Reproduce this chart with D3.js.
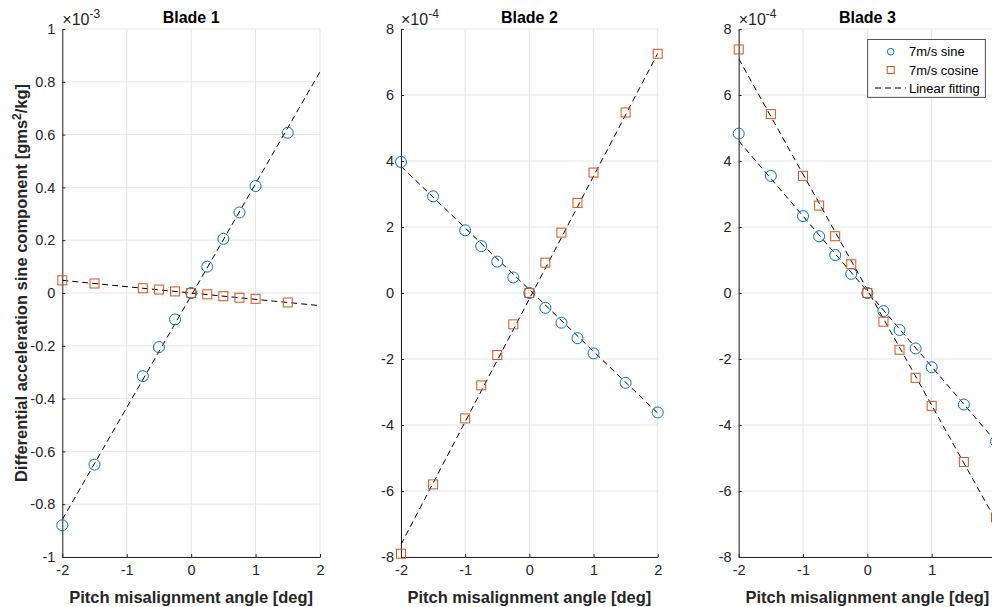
<!DOCTYPE html>
<html><head><meta charset="utf-8">
<script src="https://cdn.jsdelivr.net/npm/d3@7"></script>
<style>body{margin:0;background:#fff;overflow:hidden}svg{display:block;font-family:"Liberation Sans",Arial,Helvetica,sans-serif}</style>
</head><body>
<svg id="c" width="992" height="607"></svg>
<script>
// ---- data ----
const titles = ["Blade 1", "Blade 2", "Blade 3"];
const exponents = ["-3", "-4", "-4"];
const xTicks = [-2, -1, 0, 1, 2];
const yTicks1 = [-1, -0.8, -0.6, -0.4, -0.2, 0, 0.2, 0.4, 0.6, 0.8, 1];
const yTicks23 = [-8, -6, -4, -2, 0, 2, 4, 6, 8];

const b1X = [-2, -1.5, -0.75, -0.5, -0.25, 0, 0.25, 0.5, 0.75, 1, 1.5];
const b1Sine = [-0.88, -0.65, -0.315, -0.205, -0.10, 0, 0.10, 0.205, 0.305, 0.405, 0.607];
const b1Cos = [0.048, 0.036, 0.018, 0.013, 0.006, 0, -0.005, -0.012, -0.018, -0.022, -0.036];
const b1FitSine = [0.424, -0.01];   // slope, intercept
const b1FitCos = [-0.024, 0.0];

const b2X = [-2, -1.5, -1, -0.75, -0.5, -0.25, 0, 0.25, 0.5, 0.75, 1, 1.5, 2];
const b2Sine = [3.97, 2.93, 1.9, 1.42, 0.95, 0.47, 0, -0.45, -0.9, -1.37, -1.83, -2.72, -3.62];
const b2Cos = [-7.9, -5.8, -3.8, -2.8, -1.88, -0.95, 0, 0.92, 1.83, 2.73, 3.65, 5.47, 7.25];
const b2FitSine = [-1.87, 0.1];
const b2FitCos = [3.72, -0.18];

const b3X = [-2, -1.5, -1, -0.75, -0.5, -0.25, 0, 0.25, 0.5, 0.75, 1, 1.5, 2];
const b3Sine = [4.83, 3.55, 2.33, 1.72, 1.15, 0.58, 0, -0.55, -1.12, -1.68, -2.25, -3.38, -4.5];
const b3Cos = [7.38, 5.42, 3.55, 2.65, 1.72, 0.87, 0, -0.87, -1.72, -2.57, -3.42, -5.12, -6.8];
const b3FitSine = [-2.28, 0.05];
const b3FitCos = [-3.5, 0.1];

const legendLabels = ["7m/s sine", "7m/s cosine", "Linear fitting"];

// ---- drawing ----
const blue = "#0072BD", orange = "#D95319", axisCol = "#262626", gridCol = "#e5e5e5";
const svg = d3.select("#c");
const yTop = 29, yBot = 557;
const panels = [
  {left: 62.3, right: 320, dom: [-1, 1], ticks: yTicks1, x: b1X, s: b1Sine, c: b1Cos, fs: b1FitSine, fc: b1FitCos, fmt: d => String(+d.toFixed(1))},
  {left: 401, right: 657.7, dom: [-8, 8], ticks: yTicks23, x: b2X, s: b2Sine, c: b2Cos, fs: b2FitSine, fc: b2FitCos, fmt: d => String(d)},
  {left: 738.7, right: 996, dom: [-8, 8], ticks: yTicks23, x: b3X, s: b3Sine, c: b3Cos, fs: b3FitSine, fc: b3FitCos, fmt: d => String(d)}
];

panels.forEach((p, i) => {
  const x = d3.scaleLinear().domain([-2, 2]).range([p.left, p.right]);
  const y = d3.scaleLinear().domain(p.dom).range([yBot, yTop]);
  const g = svg.append("g");
  const clipId = "clip" + i;
  svg.append("clipPath").attr("id", clipId).append("rect")
    .attr("x", p.left).attr("y", yTop).attr("width", p.right - p.left).attr("height", yBot - yTop);

  // grid
  g.append("g").selectAll("line").data(xTicks).join("line")
    .attr("x1", d => x(d)).attr("x2", d => x(d)).attr("y1", yTop).attr("y2", yBot)
    .attr("stroke", gridCol).attr("stroke-width", 1);
  g.append("g").selectAll("line").data(p.ticks).join("line")
    .attr("y1", d => y(d)).attr("y2", d => y(d)).attr("x1", p.left).attr("x2", p.right)
    .attr("stroke", gridCol).attr("stroke-width", 1);

  // axes
  const xa = g.append("g").attr("transform", `translate(0,${yBot})`)
    .call(d3.axisBottom(x).tickValues(xTicks).tickSizeInner(-3).tickSizeOuter(0).tickPadding(8).tickFormat(d => String(d)));
  const ya = g.append("g").attr("transform", `translate(${p.left},0)`)
    .call(d3.axisLeft(y).tickValues(p.ticks).tickSizeInner(-3).tickSizeOuter(0).tickPadding(7).tickFormat(p.fmt));
  [xa, ya].forEach(a => {
    a.selectAll("path").attr("stroke", axisCol).attr("stroke-width", 1);
    a.selectAll("line").attr("stroke", axisCol);
    a.selectAll("text").attr("fill", axisCol).style("font-size", "14.5px").style("font-family", "'Liberation Sans', Arial, sans-serif");
  });
  xa.selectAll("text").attr("dy", "0.71em");

  // exponent
  const ex = g.append("text").attr("x", p.left).attr("y", 25).attr("fill", axisCol).style("font-size", "16px");
  ex.append("tspan").text("\u00d710");
  ex.append("tspan").attr("dy", -7).style("font-size", "12px").text(exponents[i]);

  // title
  g.append("text").attr("x", (p.left + p.right) / 2).attr("y", 23)
    .attr("text-anchor", "middle").attr("font-weight", "bold").attr("fill", "#000").style("font-size", "16px")
    .text(titles[i]);

  // x label
  g.append("text").attr("x", (p.left + p.right) / 2).attr("y", 603)
    .attr("text-anchor", "middle").attr("font-weight", "bold").attr("fill", axisCol).style("font-size", "16.5px")
    .text("Pitch misalignment angle [deg]");

  const pl = g.append("g").attr("clip-path", `url(#${clipId})`);
  // fit lines
  [p.fs, p.fc].forEach(f => {
    pl.append("line")
      .attr("x1", x(-2)).attr("y1", y(f[0] * -2 + f[1]))
      .attr("x2", x(2)).attr("y2", y(f[0] * 2 + f[1]))
      .attr("stroke", "#000").attr("stroke-width", 1).attr("stroke-dasharray", "6,4");
  });

  const mk = g.append("g");
  mk.selectAll("circle").data(p.x.map((v, k) => [v, p.s[k]])).join("circle")
    .attr("cx", d => x(d[0])).attr("cy", d => y(d[1])).attr("r", 5.5)
    .attr("fill", "none").attr("stroke", blue).attr("stroke-width", 1);
  mk.selectAll("rect").data(p.x.map((v, k) => [v, p.c[k]])).join("rect")
    .attr("x", d => x(d[0]) - 4.5).attr("y", d => y(d[1]) - 4.5).attr("width", 9).attr("height", 9)
    .attr("fill", "none").attr("stroke", orange).attr("stroke-width", 1);
});

// y label
svg.append("text").attr("transform", "translate(27,283) rotate(-90)")
  .attr("text-anchor", "middle").attr("font-weight", "bold").attr("fill", axisCol).style("font-size", "16.5px")
  .call(t => {
    t.append("tspan").text("Differential acceleration sine component [gms");
    t.append("tspan").attr("dy", -6).style("font-size", "12px").text("2");
    t.append("tspan").attr("dy", 6).text("/kg]");
  });

// legend
const lg = svg.append("g");
lg.append("rect").attr("x", 867.7).attr("y", 39.5).attr("width", 117.6).attr("height", 57.8)
  .attr("fill", "#fff").attr("stroke", axisCol).attr("stroke-width", 0.8);
const ly = [51.7, 70, 88];
lg.append("circle").attr("cx", 890.7).attr("cy", ly[0]).attr("r", 3.3).attr("fill", "none").attr("stroke", blue);
lg.append("rect").attr("x", 887.2).attr("y", ly[1] - 3.5).attr("width", 7).attr("height", 7).attr("fill", "none").attr("stroke", orange);
lg.append("line").attr("x1", 874).attr("x2", 906).attr("y1", ly[2]).attr("y2", ly[2])
  .attr("stroke", "#000").attr("stroke-dasharray", "6,4").attr("stroke-dashoffset", -1);
lg.selectAll("text.l").data(legendLabels).join("text").attr("class", "l")
  .attr("x", 909).attr("y", (d, k) => ly[k]).attr("dy", "0.35em")
  .attr("fill", "#000").style("font-size", "13px").text(d => d);
</script>
</body></html>
